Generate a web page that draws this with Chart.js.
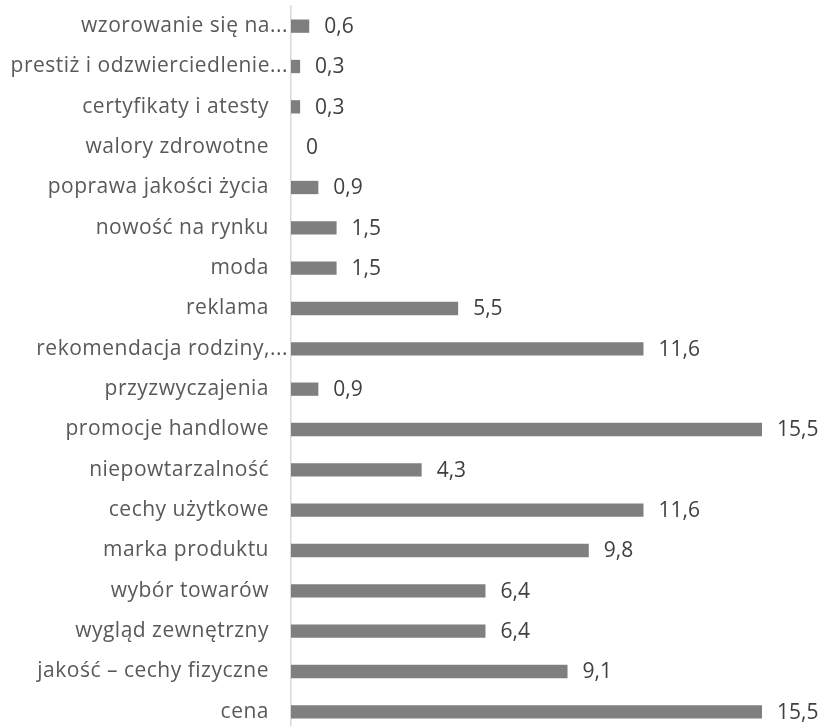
<!DOCTYPE html>
<html lang="pl">
<head>
<meta charset="utf-8">
<title>Czynniki wyboru</title>
<script src="https://cdn.jsdelivr.net/npm/chart.js@4/dist/chart.umd.min.js"></script>
<style>
  html, body { margin: 0; padding: 0; background: #fff; overflow: hidden; }
  #wrap { width: 824px; height: 732px; position: relative; }
</style>
</head>
<body>
<div id="wrap"><canvas id="grafiek"></canvas></div>
<script>
// kategorie od góry do dołu
const kategorie = [
  'wzorowanie się na...',
  'prestiż i odzwierciedlenie...',
  'certyfikaty i atesty',
  'walory zdrowotne',
  'poprawa jakości życia',
  'nowość na rynku',
  'moda',
  'reklama',
  'rekomendacja rodziny,...',
  'przyzwyczajenia',
  'promocje handlowe',
  'niepowtarzalność',
  'cechy użytkowe',
  'marka produktu ',
  'wybór towarów',
  'wygląd zewnętrzny',
  'jakość – cechy fizyczne',
  'cena'
];
const wartosci = [0.6, 0.3, 0.3, 0, 0.9, 1.5, 1.5, 5.5, 11.6, 0.9, 15.5, 4.3, 11.6, 9.8, 6.4, 6.4, 9.1, 15.5];

const czcionka = '"Open Sans", sans-serif';

// etykiety kategorii rysowane przy osi; skrócone (z "...") stoją bliżej osi
const etykietyKategorii = {
  id: 'etykietyKategorii',
  afterDraw(chart) {
    const ctx = chart.ctx;
    const os = chart.scales.y;
    ctx.save();
    ctx.letterSpacing = '0.5px';
    ctx.font = '21px ' + czcionka;
    ctx.fillStyle = '#595959';
    ctx.textAlign = 'right';
    ctx.textBaseline = 'middle';
    kategorie.forEach((nazwa, i) => {
      const skrocona = nazwa.endsWith('...');
      const x = os.right - (skrocona ? 3 : 22);
      ctx.fillText(nazwa.trimEnd(), x, os.getPixelForTick(i));
    });
    ctx.restore();
  }
};

// etykiety wartości z przecinkiem dziesiętnym, zaraz za słupkiem
const etykietyWartosci = {
  id: 'etykietyWartosci',
  afterDatasetsDraw(chart) {
    const ctx = chart.ctx;
    const meta = chart.getDatasetMeta(0);
    ctx.save();
    ctx.font = '21px ' + czcionka;
    ctx.fillStyle = '#404040';
    ctx.textAlign = 'left';
    ctx.textBaseline = 'middle';
    meta.data.forEach((bar, i) => {
      const tekst = String(wartosci[i]).replace('.', ',');
      ctx.fillText(tekst, bar.x + 15, bar.y + 1);
    });
    ctx.restore();
  }
};

new Chart(document.getElementById('grafiek'), {
  type: 'bar',
  data: {
    labels: kategorie,
    datasets: [{
      data: wartosci,
      backgroundColor: '#7f7f7f',
      borderWidth: 0,
      barPercentage: 0.5,
      categoryPercentage: 0.66
    }]
  },
  options: {
    indexAxis: 'y',
    responsive: true,
    maintainAspectRatio: false,
    animation: false,
    layout: { padding: { top: 6, right: 62, bottom: 0, left: 0 } },
    plugins: { legend: { display: false }, tooltip: { enabled: false } },
    scales: {
      x: {
        min: 0,
        max: 15.5,
        display: false
      },
      y: {
        grid: { display: false },
        border: { display: true, color: '#d9d9d9', width: 1.5 },
        ticks: { display: false },
        afterFit(scale) {
          scale.width = 291;
          scale.paddingTop = 0;
          scale.paddingBottom = 0;
        }
      }
    }
  },
  plugins: [etykietyWartosci, etykietyKategorii]
});
</script>
</body>
</html>
